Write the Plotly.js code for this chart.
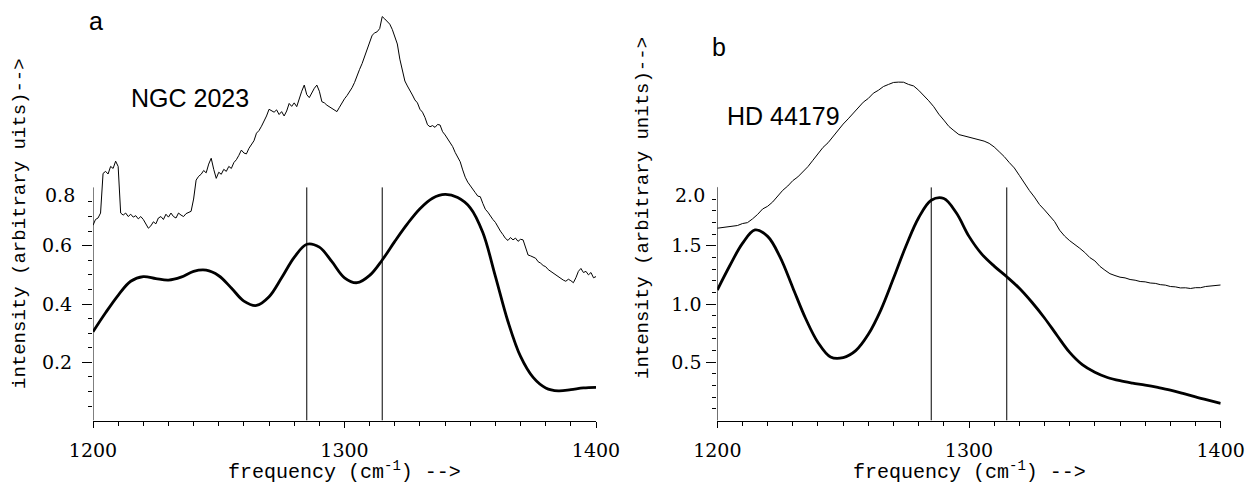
<!DOCTYPE html>
<html>
<head>
<meta charset="utf-8">
<script src="https://cdn.plot.ly/plotly-3.0.1.min.js"></script>
<style>html,body{margin:0;padding:0;background:#fff;}#chart{width:1260px;height:493px;}</style>
</head>
<body>
<div id="chart"></div>
<script>
// ---------- DATA ----------
// Panel a: NGC 2023 observed spectrum, 1 cm-1 sampling from 1200 to 1400
const obsA = [
0.670,0.690,0.695,0.712,0.848,0.855,0.846,0.872,0.865,0.890,
0.872,0.712,0.705,0.712,0.700,0.708,0.698,0.703,0.692,0.700,
0.690,0.672,0.660,0.668,0.682,0.675,0.695,0.700,0.690,0.708,
0.698,0.712,0.700,0.695,0.712,0.705,0.700,0.710,0.714,0.718,
0.760,0.825,0.838,0.845,0.858,0.850,0.880,0.900,0.862,0.831,
0.852,0.845,0.862,0.855,0.872,0.865,0.885,0.895,0.910,0.928,
0.918,0.915,0.934,0.945,0.960,0.986,0.995,1.010,1.025,1.045,
1.068,1.062,1.058,1.066,1.050,1.060,1.045,1.062,1.088,1.078,
1.090,1.077,1.105,1.130,1.151,1.118,1.108,1.125,1.140,1.151,
1.130,1.094,1.090,1.082,1.077,1.072,1.066,1.060,1.075,1.092,
1.104,1.115,1.128,1.142,1.160,1.185,1.205,1.225,1.250,1.275,
1.298,1.322,1.330,1.334,1.345,1.386,1.378,1.370,1.360,1.342,
1.320,1.292,1.240,1.200,1.165,1.148,1.130,1.117,1.100,1.090,
1.068,1.058,1.040,1.015,1.008,1.012,1.006,1.016,1.014,0.991,
0.980,0.968,0.955,0.940,0.920,0.902,0.888,0.860,0.835,0.818,
0.805,0.791,0.782,0.770,0.768,0.745,0.725,0.715,0.700,0.690,
0.680,0.662,0.650,0.638,0.625,0.618,0.628,0.620,0.626,0.615,
0.622,0.620,0.590,0.568,0.565,0.560,0.557,0.545,0.540,0.532,
0.528,0.518,0.512,0.505,0.500,0.492,0.488,0.482,0.478,0.485,
0.480,0.473,0.490,0.512,0.522,0.508,0.512,0.500,0.508,0.490,
0.494];
const obsAStart = 1200, obsAStep = 1;

// Model (thick) curves, 5 cm-1 sampling
const modelFreq = [1200,1205,1210,1215,1220,1225,1230,1235,1240,1245,1250,1255,1260,1265,1270,1275,1280,1285,1290,1295,1300,1305,1310,1315,1320,1325,1330,1335,1340,1345,1350,1355,1360,1365,1370,1375,1380,1385,1390,1395,1400];
const modelA = [0.305,0.370,0.430,0.478,0.494,0.487,0.482,0.492,0.512,0.516,0.497,0.455,0.410,0.395,0.425,0.490,0.560,0.605,0.595,0.545,0.490,0.473,0.498,0.551,0.615,0.675,0.727,0.763,0.776,0.765,0.730,0.645,0.495,0.340,0.220,0.148,0.112,0.102,0.106,0.112,0.114];

// Panel b: HD 44179 observed spectrum, 2 cm-1 sampling
const obsB = [
1.650,1.656,1.660,1.668,1.673,1.690,1.698,1.730,1.768,1.815,
1.838,1.875,1.922,1.975,2.012,2.058,2.090,2.133,2.178,2.233,
2.288,2.343,2.383,2.438,2.488,2.543,2.588,2.638,2.688,2.731,
2.763,2.808,2.833,2.865,2.883,2.900,2.903,2.902,2.883,2.870,
2.833,2.792,2.743,2.692,2.628,2.577,2.523,2.487,2.453,2.442,
2.430,2.422,2.406,2.397,2.378,2.347,2.306,2.264,2.213,2.167,
2.103,2.037,1.973,1.917,1.853,1.807,1.753,1.707,1.633,1.582,
1.543,1.514,1.478,1.442,1.398,1.370,1.323,1.290,1.260,1.244,
1.230,1.224,1.210,1.204,1.193,1.190,1.180,1.177,1.166,1.162,
1.150,1.147,1.138,1.139,1.133,1.140,1.140,1.150,1.153,1.162,
1.163];
const obsBStart = 1200, obsBStep = 2;

const modelB = [1.120,1.330,1.520,1.635,1.580,1.400,1.140,0.880,0.670,0.545,0.540,0.600,0.740,0.950,1.220,1.500,1.740,1.890,1.905,1.780,1.580,1.430,1.325,1.234,1.135,1.015,0.880,0.730,0.585,0.480,0.415,0.370,0.342,0.322,0.305,0.285,0.262,0.233,0.203,0.175,0.148];

// Vertical marker lines (cm-1)
const markerLines = [1285, 1315];

// Axis ticks
const xTicks = [1200, 1300, 1400];
const xMinor = [1210,1220,1230,1240,1250,1260,1270,1280,1290,1310,1320,1330,1340,1350,1360,1370,1380,1390];
const yTicksA = [0, 0.2, 0.4, 0.6, 0.8];
const yMinorA = [0.05,0.1,0.15,0.25,0.3,0.35,0.45,0.5,0.55,0.65,0.7,0.75];
const yTicksB = [0, 0.5, 1.0, 1.5, 2.0];
const yMinorB = [0.1,0.2,0.3,0.4,0.6,0.7,0.8,0.9,1.1,1.2,1.3,1.4,1.6,1.7,1.8,1.9];

const panelLetters = ['a', 'b'];
const labelA = 'NGC 2023', labelB = 'HD 44179';
const yTitleA = 'intensity (arbitrary uits)-->';
const yTitleB = 'intensity (arbitrary units)-->';
const xTitle = 'frequency (cm<sup>-1</sup>) -->';

// ---------- BUILD ----------
const W = 1260, H = 493;
const fx = p => p / W;
const fy = p => (H - p) / H;
const grid = (start, step, n) => Array.from({length: n}, (_, i) => start + i * step);

const serif = 'DejaVu Serif, Liberation Serif, serif';
const mono = 'Liberation Mono, Courier New, monospace';
const sans = 'Liberation Sans, Arial, sans-serif';

const traces = [
  {x: grid(obsAStart, obsAStep, obsA.length), y: obsA, xaxis: 'x', yaxis: 'y', mode: 'lines', line: {color: '#000', width: 1}, hoverinfo: 'skip'},
  {x: modelFreq, y: modelA, xaxis: 'x', yaxis: 'y', mode: 'lines', line: {color: '#000', width: 2.8, shape: 'spline', smoothing: 1}, hoverinfo: 'skip'},
  {x: grid(obsBStart, obsBStep, obsB.length), y: obsB, xaxis: 'x2', yaxis: 'y2', mode: 'lines', line: {color: '#000', width: 1}, hoverinfo: 'skip'},
  {x: modelFreq, y: modelB, xaxis: 'x2', yaxis: 'y2', mode: 'lines', line: {color: '#000', width: 2.8, shape: 'spline', smoothing: 1}, hoverinfo: 'skip'}
];

const domA = [fx(93), fx(596)];
const domB = [fx(717.3), fx(1220.7)];
const yDom = [fy(420.6), fy(10)];
function xAxis(dom, anchor) {
  return {
    domain: dom, anchor: anchor, range: [1200, 1400],
    showline: true, linecolor: '#000', linewidth: 1, mirror: false,
    showgrid: false, zeroline: false,
    ticks: 'outside', ticklen: 6, tickwidth: 1, tickcolor: '#000',
    tickmode: 'array', tickvals: xTicks, ticktext: xTicks.map(String),
    ticklabelstandoff: 7,
    minor: {tickmode: 'array', tickvals: xMinor, ticks: 'outside', ticklen: 4, tickwidth: 1, tickcolor: '#000', showgrid: false},
    tickfont: {family: serif, size: 19, color: '#000'},
    fixedrange: true
  };
}
// inner ticks get labels from the library; end ticks (0 and top) drawn as shapes
function yAxis(top, ticks, minor, anchor, standoff) {
  const inner = ticks.slice(1, -1);
  return {
    domain: yDom, anchor: anchor, range: [0, top],
    showline: false, showgrid: false, zeroline: false,
    ticks: 'outside', ticklen: 10, tickwidth: 1, tickcolor: '#000',
    tickmode: 'array', tickvals: inner, ticktext: inner.map(v => v.toFixed(1)),
    ticklabelstandoff: standoff,
    minor: {tickmode: 'array', tickvals: minor, ticks: 'outside', ticklen: 4, tickwidth: 1, tickcolor: '#000', showgrid: false},
    tickfont: {family: serif, size: 19, color: '#000'},
    fixedrange: true
  };
}

const pxPerUnitA = 291.5, pxPerUnitB = 116.6;
const plotH = 420.6 - 10;

const topA = yTicksA[yTicksA.length - 1];
const topB = yTicksB[yTicksB.length - 1];

const shapes = [];
[['x', 'y', topA, yTicksA], ['x2', 'y2', topB, yTicksB]].forEach(([xr, yr, top, ticks]) => {
  // y axis line up to top tick only
  shapes.push({type: 'line', xref: xr, yref: yr, x0: 1200, x1: 1200, y0: 0, y1: top, line: {color: '#000', width: 1}});
  // end major ticks
  [ticks[0], ticks[ticks.length - 1]].forEach(v => {
    shapes.push({type: 'line', xref: xr, yref: yr, xsizemode: 'pixel', xanchor: 1200, x0: -10, x1: 0, y0: v, y1: v, line: {color: '#000', width: 1}});
  });
  markerLines.forEach(f => {
    shapes.push({type: 'line', xref: xr, yref: yr, x0: f, x1: f, y0: 0, y1: top, line: {color: '#000', width: 1}});
  });
});

const annFont = {family: sans, size: 25, color: '#000'};
const tickFont = {family: serif, size: 19, color: '#000'};
const titleFont = {family: mono, size: 19, color: '#000'};
const annotations = [
  {text: panelLetters[0], xref: 'paper', yref: 'paper', x: fx(87), y: fy(21), xanchor: 'left', yanchor: 'middle', showarrow: false, font: annFont},
  {text: labelA, xref: 'paper', yref: 'paper', x: fx(129), y: fy(98), xanchor: 'left', yanchor: 'middle', showarrow: false, font: annFont},
  {text: panelLetters[1], xref: 'paper', yref: 'paper', x: fx(710), y: fy(47), xanchor: 'left', yanchor: 'middle', showarrow: false, font: annFont},
  {text: labelB, xref: 'paper', yref: 'paper', x: fx(725), y: fy(116), xanchor: 'left', yanchor: 'middle', showarrow: false, font: annFont},
  {text: yTitleA, xref: 'paper', yref: 'paper', x: fx(20), y: fy(224), xanchor: 'center', yanchor: 'middle', textangle: -90, showarrow: false, font: titleFont},
  {text: yTitleB, xref: 'paper', yref: 'paper', x: fx(643), y: fy(208), xanchor: 'center', yanchor: 'middle', textangle: -90, showarrow: false, font: titleFont},
  {text: xTitle, xref: 'paper', yref: 'paper', x: (domA[0] + domA[1]) / 2, y: fy(471), xanchor: 'center', yanchor: 'middle', showarrow: false, font: {family: mono, size: 20, color: '#000'}},
  {text: xTitle, xref: 'paper', yref: 'paper', x: (domB[0] + domB[1]) / 2, y: fy(471), xanchor: 'center', yanchor: 'middle', showarrow: false, font: {family: mono, size: 20, color: '#000'}},
  // top tick labels sit just below their tick in the original
  {text: topA.toFixed(1), xref: 'paper', yref: 'paper', x: fx(77), y: fy(195), xanchor: 'right', yanchor: 'middle', showarrow: false, font: tickFont},
  {text: topB.toFixed(1), xref: 'paper', yref: 'paper', x: fx(707), y: fy(195), xanchor: 'right', yanchor: 'middle', showarrow: false, font: tickFont}
];

const layout = {
  width: W, height: H,
  margin: {l: 0, r: 0, t: 0, b: 0},
  paper_bgcolor: '#fff', plot_bgcolor: 'rgba(0,0,0,0)',
  showlegend: false,
  xaxis: xAxis(domA, 'y'),
  yaxis: yAxis(plotH / pxPerUnitA, yTicksA, yMinorA, 'x', 6),
  xaxis2: xAxis(domB, 'y2'),
  yaxis2: yAxis(plotH / pxPerUnitB, yTicksB, yMinorB, 'x2', 1),
  shapes: shapes,
  annotations: annotations
};

Plotly.newPlot('chart', traces, layout, {staticPlot: true, displayModeBar: false});
</script>
</body>
</html>
